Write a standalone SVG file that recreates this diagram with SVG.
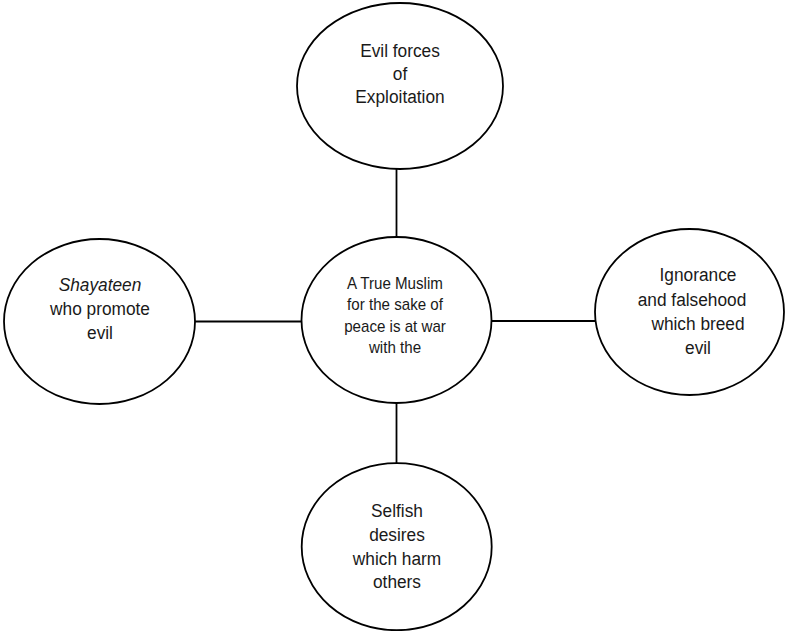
<svg xmlns="http://www.w3.org/2000/svg" width="785" height="631" viewBox="0 0 785 631">
<style>
.node ellipse{fill:#fff;stroke:#000;stroke-width:1.8}
.conn line{stroke:#000;stroke-width:1.8}
text{font-family:"Liberation Sans",Arial,sans-serif;font-size:19px;fill:#1a1a1a;text-anchor:middle}
.small{font-size:17px}
</style>
<rect width="785" height="631" fill="#fff"/>
<g class="conn" id="connectors">
<line x1="396.5" y1="168" x2="396.5" y2="237"/>
<line x1="195" y1="321.5" x2="302" y2="321.5"/>
<line x1="491" y1="321" x2="595" y2="321"/>
<line x1="396.5" y1="403" x2="396.5" y2="464"/>
</g>
<g class="node" id="top">
<ellipse cx="400" cy="86" rx="103" ry="83"/>
<text transform="matrix(0.91 0 0 1 400 57)">Evil forces</text>
<text transform="matrix(0.91 0 0 1 400 80)">of</text>
<text transform="matrix(0.91 0 0 1 400 103)">Exploitation</text>
</g>
<g class="node" id="center">
<ellipse cx="396.5" cy="320" rx="95" ry="83"/>
<text class="small" transform="matrix(0.89 0 0 1 395 289)">A True Muslim</text>
<text class="small" transform="matrix(0.89 0 0 1 395 310)">for the sake of</text>
<text class="small" transform="matrix(0.89 0 0 1 395 332)">peace is at war</text>
<text class="small" transform="matrix(0.89 0 0 1 395 353)">with the</text>
</g>
<g class="node" id="left">
<ellipse cx="99.5" cy="321.5" rx="95.5" ry="82.5"/>
<text font-style="italic" transform="matrix(0.91 0 0 1 100 291)">Shayateen</text>
<text transform="matrix(0.91 0 0 1 100 315)">who promote</text>
<text transform="matrix(0.91 0 0 1 100 339)">evil</text>
</g>
<g class="node" id="right">
<ellipse cx="689.5" cy="312" rx="94.5" ry="83"/>
<text transform="matrix(0.91 0 0 1 698 281)">Ignorance</text>
<text transform="matrix(0.91 0 0 1 692 306)">and falsehood</text>
<text transform="matrix(0.91 0 0 1 698 330)">which breed</text>
<text transform="matrix(0.91 0 0 1 698 354)">evil</text>
</g>
<g class="node" id="bottom">
<ellipse cx="396.7" cy="546.7" rx="95" ry="83.5"/>
<text transform="matrix(0.91 0 0 1 397 517)">Selfish</text>
<text transform="matrix(0.91 0 0 1 397 541)">desires</text>
<text transform="matrix(0.91 0 0 1 397 565)">which harm</text>
<text transform="matrix(0.91 0 0 1 397 588)">others</text>
</g>
</svg>
